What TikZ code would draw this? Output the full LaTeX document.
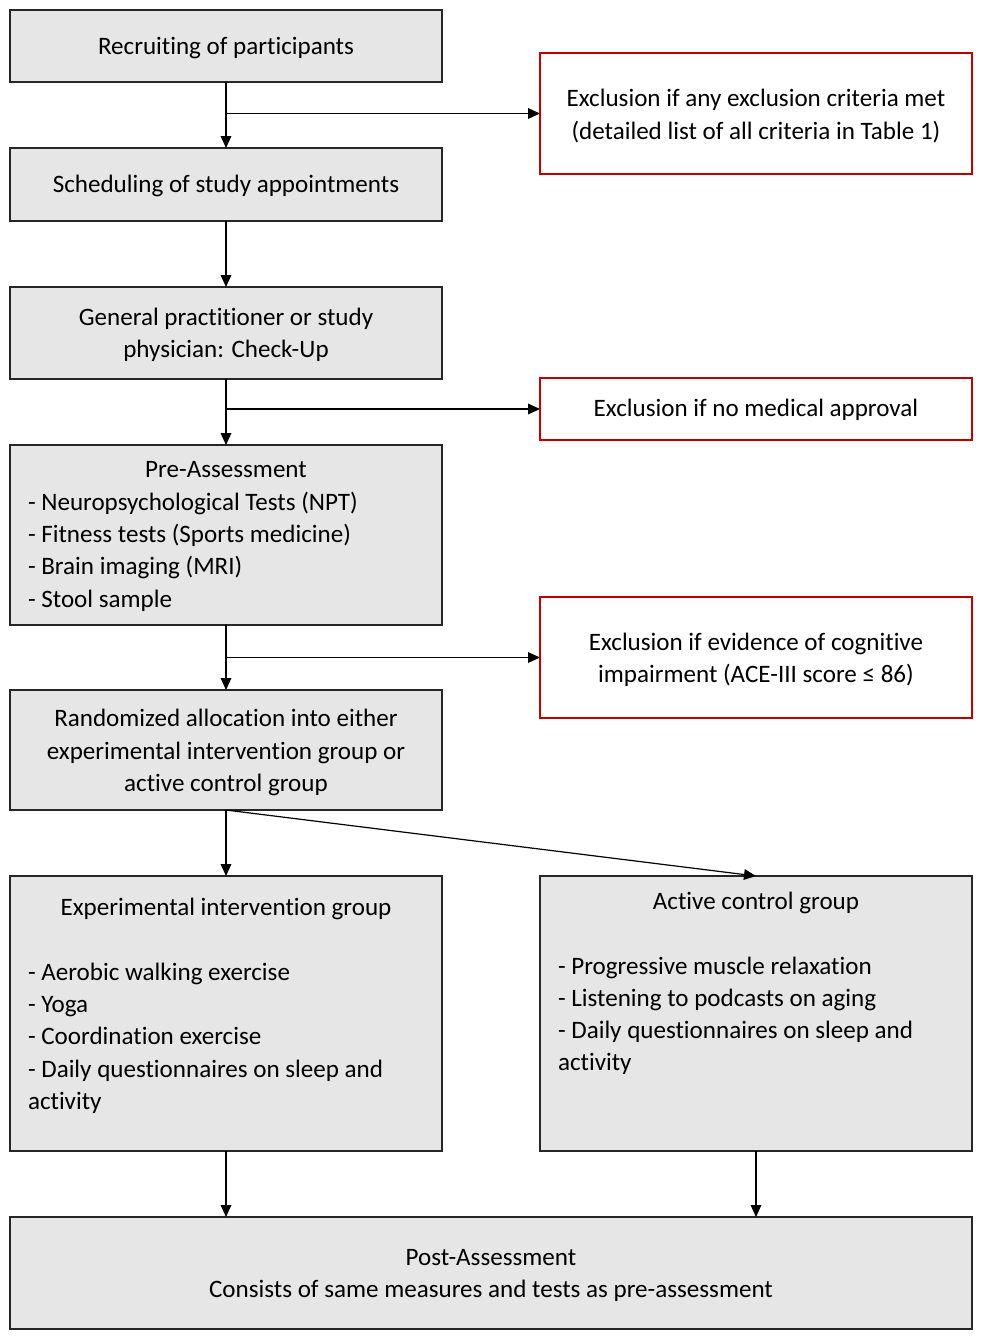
\documentclass[tikz,border=0pt]{standalone}
\usepackage{fontspec}
\setmainfont{Carlito}[Ligatures=NoCommon]
\usetikzlibrary{arrows.meta}
\definecolor{boxgray}{RGB}{231,230,230}
\definecolor{exred}{RGB}{192,0,0}
\definecolor{edge}{RGB}{38,38,38}
\begin{document}
\begin{tikzpicture}[x=0.75pt,y=-0.75pt,
  every node/.style={font=\fontsize{18.8}{24.2}\selectfont, inner sep=0pt, outer sep=0pt},
  graybox/.style={draw=edge, line width=1.5pt, fill=boxgray, minimum width=324pt},
  redbox/.style={draw=exred, line width=2.2pt, fill=white, minimum width=324pt},
  txt/.style={align=center},
  ltxt/.style={align=left},
  arr/.style={line width=0.9pt, -{Triangle[length=9pt,width=8pt]}}]
\useasboundingbox (0,0) rectangle (981,1339);
% boxes
\node[graybox, minimum height=54pt] (b1) at (226,46) {};
\node[graybox, minimum height=54.75pt] (b2) at (226,184.5) {};
\node[graybox, minimum height=69pt] (b3) at (226,333) {};
\node[graybox, minimum height=135pt] (b4) at (226,535) {};
\node[graybox, minimum height=90pt] (b5) at (226,750) {};
\node[graybox, minimum height=206.25pt] (b6) at (226,1013.5) {};
\node[graybox, minimum height=206.25pt] (b7) at (756,1013.5) {};
\node[graybox, minimum width=721.5pt, minimum height=84pt] (b8) at (491,1273) {};
\node[redbox, minimum height=90.75pt] (e1) at (756,113.5) {};
\node[redbox, minimum height=46.5pt] (e2) at (756,409) {};
\node[redbox, minimum height=90.75pt] (e3) at (756,657.5) {};
% texts
\node[txt] (t1) at (226,48) {Recruiting of participants};
\node[txt] (t2) at (226,186) {Scheduling of study appointments};
\node[txt] (t3) at (226,335) {General practitioner or study\\physician: Check-Up};
\node[txt] (te1) at (756,116) {Exclusion if any exclusion criteria met\\(detailed list of all criteria in Table 1)};
\node[txt] (te2) at (756,410) {Exclusion if no medical approval};
\node[txt] (te3) at (756,660) {Exclusion if evidence of cognitive\\impairment (ACE-III score ≤ 86)};
\node[ltxt] (t4) at (226,536.5) {\makebox[297pt]{Pre-Assessment}\\- Neuropsychological Tests (NPT)\\- Fitness tests (Sports medicine)\\- Brain imaging (MRI)\\- Stool sample};
\node[txt] (t5) at (226,752.5) {Randomized allocation into either\\experimental intervention group or\\active control group};
\node[ltxt] (t6) at (226,1006) {\makebox[297pt]{Experimental intervention group}\\\mbox{}\\- Aerobic walking exercise\\- Yoga\\- Coordination exercise\\- Daily questionnaires on sleep and\\activity};
\node[ltxt] (t7) at (756,983.5) {\makebox[297pt]{Active control group}\\\mbox{}\\- Progressive muscle relaxation\\- Listening to podcasts on aging\\- Daily questionnaires on sleep and\\activity};
\node[txt] (t8) at (491,1275.5) {Post-Assessment\\Consists of same measures and tests as pre-assessment};
% connectors
\coordinate (j1) at (226,113.5);
\coordinate (j2) at (226,409);
\coordinate (j3) at (226,657.5);
\draw[arr] (b1.south) -- (b2.north);
\draw[arr] (j1) -- (e1.west);
\draw[arr] (b2.south) -- (b3.north);
\draw[arr] (b3.south) -- (b4.north);
\draw[arr] (j2) -- (e2.west);
\draw[arr] (b4.south) -- (b5.north);
\draw[arr] (j3) -- (e3.west);
\draw[arr] (b5.south) -- (b6.north);
\draw[arr] (b5.south) -- (b7.north);
\draw[arr] (b6.south) -- (b6.south |- b8.north);
\draw[arr] (b7.south) -- (b7.south |- b8.north);
\end{tikzpicture}
\end{document}
